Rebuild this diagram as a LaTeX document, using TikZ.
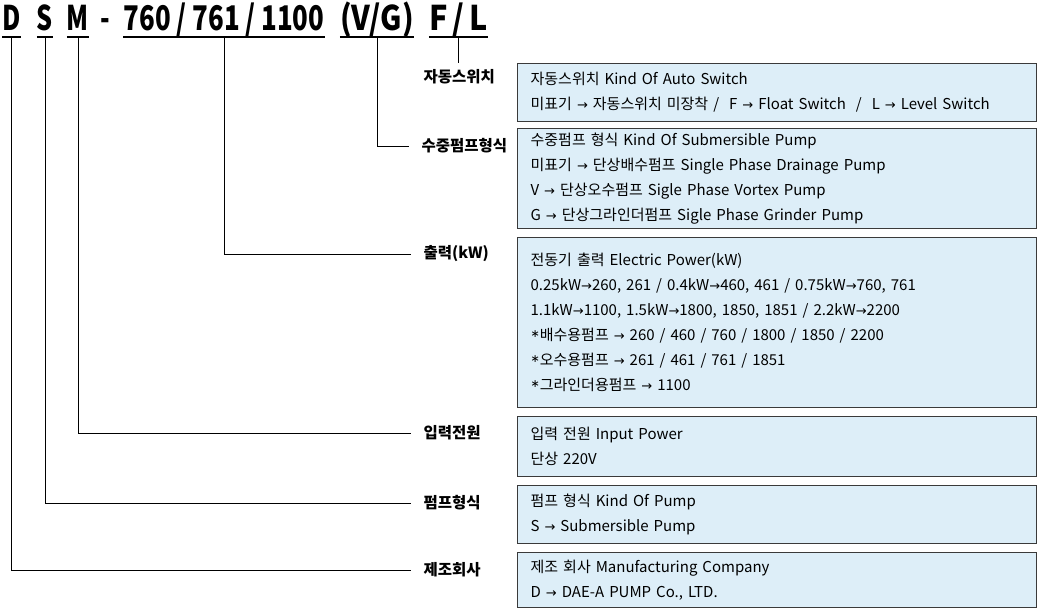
\documentclass[tikz,border=0pt]{standalone}
\usepackage{fontspec}
\setmainfont{Noto Sans CJK KR}
\newfontfamily\arrfont{DejaVu Sans}
\definecolor{boxfill}{HTML}{DDEEF8}
\definecolor{boxline}{HTML}{3A3A3A}
\newcommand\cond[2][0.74]{\scalebox{#1}[1]{#2}}
\newcommand\toarr{{\arrfont\fontsize{13}{13}\selectfont →}}
\newcommand\pumpmark{\raisebox{3pt}{\arrfont\fontsize{11}{11}\selectfont ∗}}
\begin{document}
\begin{tikzpicture}[x=1pt,y=-1pt,
		codepart/.style={anchor=base,inner xsep=0pt,inner ysep=7pt,text height=25pt,text depth=0pt,font=\bfseries\fontsize{34}{34}\selectfont},
		tag/.style={anchor=west,font=\bfseries\fontsize{15.5}{18}\selectfont},
		infobox/.style={draw=boxline,fill=boxfill,line width=1.2pt,anchor=north west,align=left,text width=493pt,inner xsep=13pt,inner ysep=0pt,font=\fontsize{15}{25}\selectfont},
		under/.style={line width=2pt},
		lead/.style={line width=0.9pt}]
	\useasboundingbox (0,0) rectangle (1040,611);
	% model code
	\node[codepart] (pD) at (11.5,30) {\cond{D}};
	\node[codepart] (pS) at (45,30) {\cond{S}};
	\node[codepart] (pM) at (78,30) {\cond{M}};
	\node[codepart] (pDash) at (105,30) {\cond{-}};
	\node[codepart] (pNum) at (224,30) {\cond[0.76]{760~/~761~/~1100}};
	\node[codepart] (pVG) at (377,30) {\cond[0.86]{(V/G)}};
	\node[codepart] (pFL) at (458.5,30) {\cond[0.9]{F\,/\,L}};
	\foreach \p in {pD,pS,pM,pNum,pVG,pFL}
		\draw[under] (\p.south west)--(\p.south east);
	% labels
	\node[tag] (lbSwitch) at (420,77) {자동스위치};
	\node[tag] (lbType) at (418,146) {수중펌프형식};
	\node[tag] (lbPower) at (420,254) {출력(kW)};
	\node[tag] (lbInput) at (420,433) {입력전원};
	\node[tag] (lbPump) at (420,503) {펌프형식};
	\node[tag] (lbMaker) at (420,570) {제조회사};
	% boxes
	\node[infobox,minimum height=58pt] (bxSwitch) at (517,63) {자동스위치 Kind Of Auto Switch\\
		미표기 \toarr{} 자동스위치 미장착 /~~F \toarr{} Float Switch~~/~~L \toarr{} Level Switch};
	\node[infobox,minimum height=100pt] (bxType) at (517,128) {수중펌프 형식 Kind Of Submersible Pump\\
		미표기 \toarr{} 단상배수펌프 Single Phase Drainage Pump\\
		V \toarr{} 단상오수펌프 Sigle Phase Vortex Pump\\
		G \toarr{} 단상그라인더펌프 Sigle Phase Grinder Pump};
	\node[infobox,minimum height=170pt] (bxPower) at (517,237) {전동기 출력 Electric Power(kW)\\
		0.25kW\toarr260, 261 / 0.4kW\toarr460, 461 / 0.75kW\toarr760, 761\\
		1.1kW\toarr1100, 1.5kW\toarr1800, 1850, 1851 / 2.2kW\toarr2200\\
		\pumpmark 배수용펌프 \toarr{} 260 / 460 / 760 / 1800 / 1850 / 2200\\
		\pumpmark 오수용펌프 \toarr{} 261 / 461 / 761 / 1851\\
		\pumpmark 그라인더용펌프 \toarr{} 1100};
	\node[infobox,minimum height=60pt] (bxInput) at (517,416) {입력 전원 Input Power\\
		단상 220V};
	\node[infobox,minimum height=58pt] (bxPump) at (517,485) {펌프 형식 Kind Of Pump\\
		S \toarr{} Submersible Pump};
	\node[infobox,minimum height=55pt] (bxMaker) at (517,552) {제조 회사 Manufacturing Company\\
		D \toarr{} DAE-A PUMP Co., LTD.};
	% leaders
	\draw[lead] (pFL.south)--(pFL.south |- bxSwitch.north);
	\draw[lead] (pVG.south) |- ([xshift=-9pt]lbType.west);
	\draw[lead] (pNum.south) |- ([xshift=-9pt]lbPower.west);
	\draw[lead] (pM.south) |- ([xshift=-9pt]lbInput.west);
	\draw[lead] (pS.south) |- ([xshift=-9pt]lbPump.west);
	\draw[lead] (pD.south) |- ([xshift=-9pt]lbMaker.west);
\end{tikzpicture}
\end{document}
